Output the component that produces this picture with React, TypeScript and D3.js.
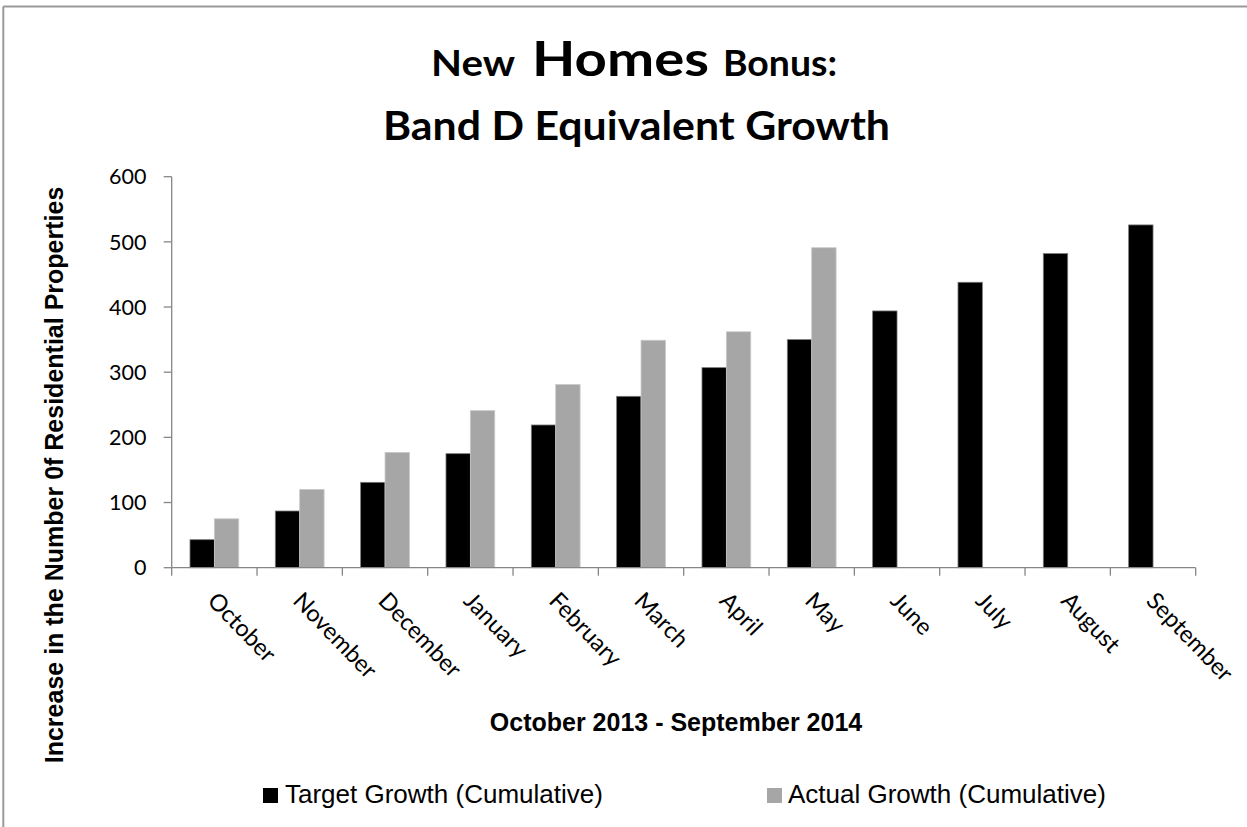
import React from "react";
import * as d3 from "d3";

const months = ["October", "November", "December", "January", "February", "March", "April", "May", "June", "July", "August", "September"];
const targetGrowth = [43, 87, 131, 175, 219, 263, 307, 350, 394, 438, 482, 526];
const actualGrowth: (number | null)[] = [75, 120, 177, 241, 281, 349, 362, 491, null, null, null, null];
const yTicks = [0, 100, 200, 300, 400, 500, 600];
const seriesNames = ["Target Growth (Cumulative)", "Actual Growth (Cumulative)"];
const seriesColors = ["#000000", "#a6a6a6"];

const W = 1247;
const H = 827;
const plotLeft = 171.7;
const plotRight = 1195.7;
const plotTop = 176.7;
const plotBottom = 567.7;

const calibri = "Lato, 'Open Sans', sans-serif";
const arial = "'Liberation Sans', Arial, sans-serif";
const axisColor = "#868686";

export default function App() {
  const x = d3.scaleBand<string>().domain(months).range([plotLeft, plotRight]).paddingInner(0).paddingOuter(0);
  const y = d3.scaleLinear().domain([0, 600]).range([plotBottom, plotTop]);
  const bw = x.bandwidth();
  const barW = bw / 3.5;
  const groupOffset = barW * 0.75;
  const tickEdges = d3.range(months.length + 1).map((i) => plotLeft + i * bw);

  return (
    <div style={{ position: "absolute", left: 0, top: 0 }}>
      <svg width={W} height={H} style={{ display: "block", background: "#fff" }}>
        <rect x={0} y={0} width={W} height={H} fill="#fff" />
        {/* outer chart border (left & top visible) */}
        <line x1={3.3} y1={6.5} x2={3.3} y2={H + 5} stroke="#9a9a9a" strokeWidth={2} />
        <line x1={3.3} y1={6.5} x2={W + 5} y2={6.5} stroke="#9a9a9a" strokeWidth={2} />

        {/* title */}
        <g fontFamily={calibri} fontWeight={700} fill="#000">
          <text x={431} y={76} fontSize={37} textLength={84} lengthAdjust="spacingAndGlyphs">New</text>
          <text x={532} y={76} fontSize={48} textLength={177} lengthAdjust="spacingAndGlyphs">Homes</text>
          <text x={723} y={76} fontSize={37} textLength={114} lengthAdjust="spacingAndGlyphs">Bonus:</text>
          <text x={383} y={140} fontSize={40} textLength={507} lengthAdjust="spacingAndGlyphs">Band D Equivalent Growth</text>
        </g>

        {/* bars */}
        {months.map((m, i) => (
          <g key={m}>
            <rect
              x={(x(m) as number) + groupOffset}
              y={y(targetGrowth[i])}
              width={barW}
              height={y(0) - y(targetGrowth[i])}
              fill={seriesColors[0]}
              stroke="#7a7a7a"
              strokeWidth={0.8}
            />
            {actualGrowth[i] != null && (
              <rect
                x={(x(m) as number) + groupOffset + barW}
                y={y(actualGrowth[i] as number)}
                width={barW}
                height={y(0) - y(actualGrowth[i] as number)}
                fill={seriesColors[1]}
                stroke="#c8c8c8"
                strokeWidth={0.8}
              />
            )}
          </g>
        ))}

        {/* y axis */}
        <line x1={plotLeft} y1={plotTop} x2={plotLeft} y2={plotBottom} stroke={axisColor} strokeWidth={1.3} />
        {yTicks.map((t) => (
          <g key={t}>
            <line x1={plotLeft - 8} x2={plotLeft} y1={y(t)} y2={y(t)} stroke={axisColor} strokeWidth={1.3} />
            <text x={146.5} y={y(t)} dy="0.36em" textAnchor="end" fontFamily={calibri} fontSize={21.5} fill="#000">
              {t}
            </text>
          </g>
        ))}

        {/* x axis */}
        <line x1={plotLeft} y1={plotBottom} x2={plotRight} y2={plotBottom} stroke={axisColor} strokeWidth={1.3} />
        {tickEdges.map((tx, i) => (
          <line key={i} x1={tx} x2={tx} y1={plotBottom} y2={plotBottom + 8} stroke={axisColor} strokeWidth={1.3} />
        ))}
        {months.map((m) => {
          const cx = (x(m) as number) + bw / 2;
          const ox = cx - 8;
          const oy = 602;
          return (
            <text
              key={m}
              x={ox}
              y={oy}
              transform={`rotate(46, ${ox}, ${oy})`}
              fontFamily={calibri}
              fontSize={23.5}
              fill="#000"
            >
              {m}
            </text>
          );
        })}

        {/* axis titles */}
        <text
          x={63}
          y={475}
          transform="rotate(-90, 63, 475)"
          textAnchor="middle"
          fontFamily={arial}
          fontWeight={700}
          fontSize={25}
          fill="#000"
        >
          Increase in the Number 0f Residential Properties
        </text>
        <text x={676} y={731} textAnchor="middle" fontFamily={arial} fontWeight={700} fontSize={25} fill="#000">
          October 2013 - September 2014
        </text>

        {/* legend */}
        <rect x={263} y={788} width={15} height={15} fill={seriesColors[0]} />
        <text x={285} y={803} fontFamily={arial} fontSize={26} fill="#000">{seriesNames[0]}</text>
        <rect x={767} y={788} width={15} height={15} fill={seriesColors[1]} />
        <text x={788} y={803} fontFamily={arial} fontSize={26} fill="#000">{seriesNames[1]}</text>
      </svg>
    </div>
  );
}
